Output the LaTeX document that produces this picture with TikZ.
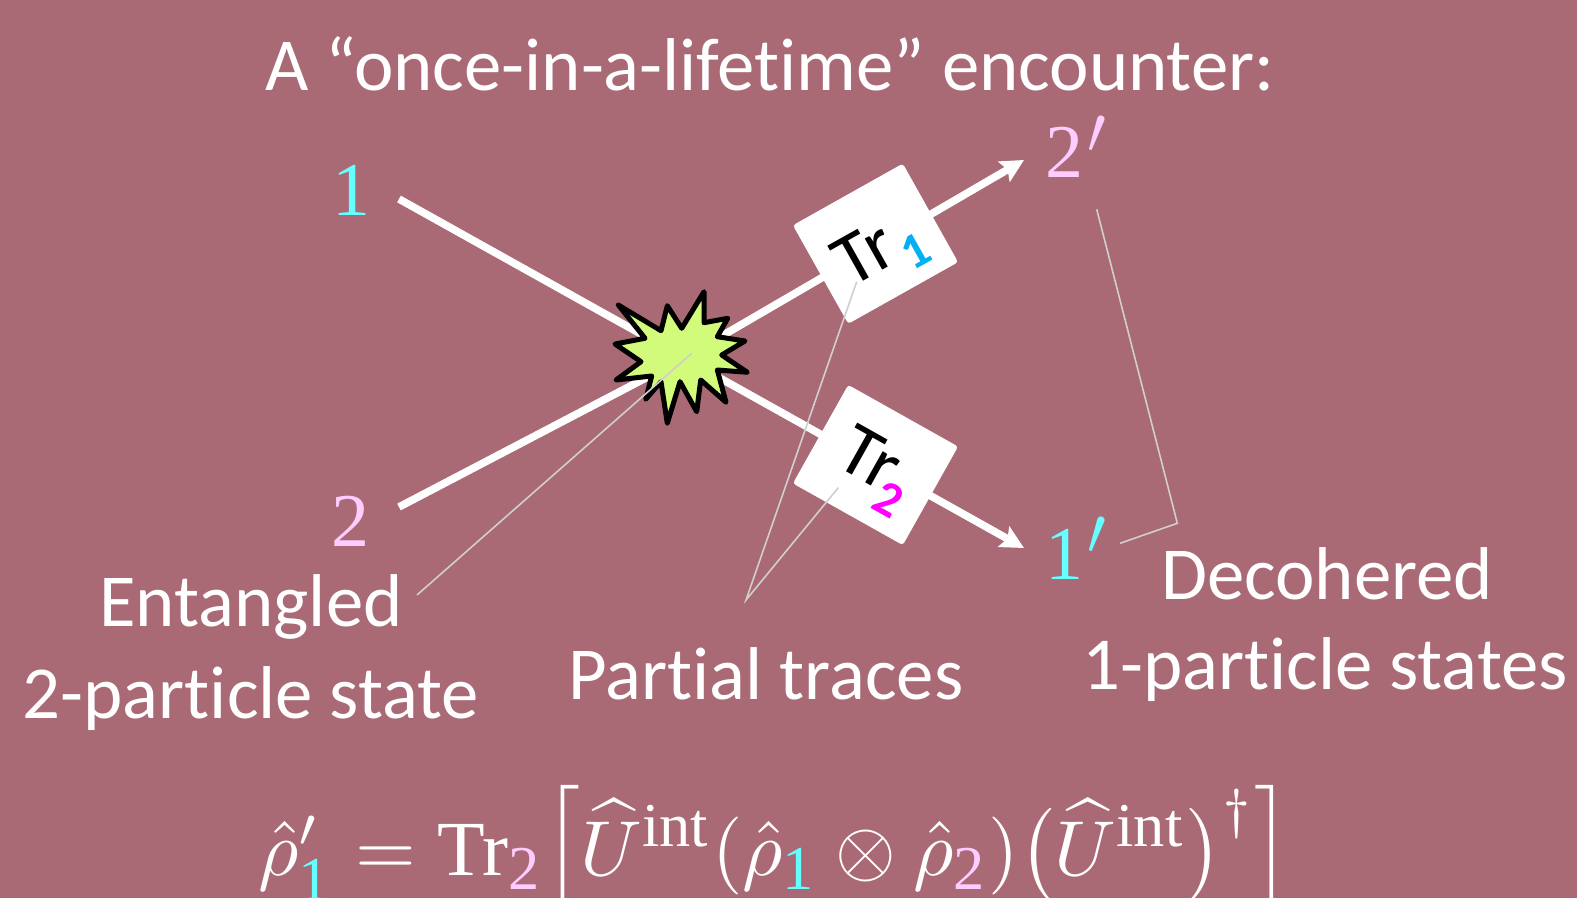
\documentclass[tikz,border=0pt]{standalone}
\usepackage[no-math]{fontspec}
\usepackage{graphicx}
\setmainfont[Ligatures=NoCommon]{Carlito}
\newfontfamily\numfont{Liberation Serif}
\usetikzlibrary{arrows.meta,positioning,calc}
\definecolor{slidebg}{HTML}{A96A76}
\definecolor{cyanone}{HTML}{66FFFF}
\definecolor{pinktwo}{HTML}{FFCCFF}
\definecolor{pointer}{HTML}{D0CECE}
\definecolor{burstfill}{HTML}{D2FB7C}
\definecolor{subone}{HTML}{00B0F0}
\definecolor{subtwo}{HTML}{FF00FF}
\newcommand{\BigText}{\fontsize{37.4}{45}\selectfont}
\newcommand{\NumText}{\fontsize{38}{45}\numfont}
\newcommand{\SubFont}{\fontsize{25}{25}\selectfont\bfseries}
\newcommand{\SubOne}{\mbox{\fontsize{8}{8}\numfont\textcolor{cyanone}{1}}}
\newcommand{\SubTwo}{\mbox{\fontsize{8}{8}\numfont\textcolor{pinktwo}{2}}}
\newcommand{\Interact}{\mbox{\fontsize{8}{8}\numfont int}}
\newcommand{\BigPrime}{\kern2pt\scalebox{1.35}{$'$}}

\begin{document}
\begin{tikzpicture}[
  x=0.5pt, y=-0.5pt,
  label/.style={font=\BigText, text=white, align=center, inner sep=0pt},
  num/.style={font=\NumText, anchor=base, inner sep=0pt},
  tracebox/.style={fill=white, rounded corners=1.5pt, minimum width=63pt, minimum height=56.5pt,
    inner sep=0pt, font=\BigText, text=black},
  beam/.style={white, line width=3.8pt},
  beamtip/.style={beam, -{Stealth[length=11.5pt, width=11.5pt, inset=2pt]}},
  pointline/.style={draw=pointer, line width=0.8pt}
]
\useasboundingbox (0,0) rectangle (1577,898);
\fill[slidebg] (0,0) rectangle (1577,898);

\node[label, anchor=base] (title) at (770,91) {A “once-in-a-lifetime” encounter:};

\coordinate (in1) at (399,199);
\coordinate (in2) at (399,507);
\coordinate (tip1) at (1024,548);
\coordinate (tip2) at (1024,160);
\draw[beam] (in1) -- (684,358);
\draw[beam] (in2) -- (684,358);
\draw[beamtip] (684,358) -- (tip1);
\draw[beamtip] (684,358) -- (tip2);

% collision
\draw[fill=burstfill, draw=black, line width=2.5pt, line join=round]
  (704,291.7) -- (704,322.7) -- (727.7,318.3) -- (717.3,336.7) -- (745,341) -- (721.7,355)
  -- (747.3,372.3) -- (717.3,370) -- (726,402.3) -- (700.7,380) -- (696.7,411.7) -- (680,381.7)
  -- (667.3,423.3) -- (661,381.7) -- (645.7,399.3) -- (651.7,376) -- (616,380) -- (641,361.7)
  -- (615,344) -- (645,338.3) -- (618.3,305) -- (661,330.7) -- (667.3,305.7) -- (681.7,328.3)
  -- cycle;

\node[tracebox, rotate=29.3] (trace1) at (875.5,243.7)
  {\smash{\raisebox{-13.4pt}{Tr}}\kern2pt\smash{\raisebox{-21pt}{\SubFont\textcolor{subone}{1}}}};
\node[tracebox, rotate=-29.3] (trace2) at (875.5,465)
  {\kern2pt\smash{\raisebox{-10pt}{Tr}}\kern-3pt\smash{\raisebox{-19.8pt}{\SubFont\textcolor{subtwo}{2}}}};

\node[num, text=cyanone] (one) at (351,216) {1};
\node[num, text=pinktwo] (two) at (350,546) {2};
\node[num, text=pinktwo, anchor=base west] (twop) at (1045,178) {2\BigPrime};
\node[num, text=cyanone, anchor=base west] (onep) at (1045,579) {1\BigPrime};

\node[label, anchor=base] (entangled) at (251,626) {Entangled};
\node[label, anchor=base] (twostate) at (251,718) {2-particle state};
\node[label, anchor=base] (partial) at (766,699) {Partial traces};
\node[label, anchor=base] (decohered) at (1327,599) {Decohered};
\node[label, anchor=base] (onestate) at (1325,689) {1-particle states};

\coordinate (entfoot) at (417,595);
\coordinate (entend) at (691.7,353.3);
\coordinate (partfoot) at (746,600);
\coordinate (partend1) at (856.7,281.7);
\coordinate (partend2) at (838.3,487.7);
\coordinate (decend2) at (1096.7,209.3);
\coordinate (deccorner) at (1177.3,523.3);
\coordinate (decend1) at (1120,543.3);
\draw[pointline] (entfoot) -- (entend);
\draw[pointline] (partend1) -- (partfoot) -- (partend2);
\draw[pointline] (decend2) -- (deccorner) -- (decend1);

\node[text=white, anchor=base west, inner sep=0pt] (formula) at (258,875)
  {\scalebox{3.9}{$\hat\rho_{\SubOne}'=\mbox{\numfont Tr}_{\SubTwo}\Bigl[\widehat U^{\Interact}(\hat\rho_{\SubOne}\otimes\hat\rho_{\SubTwo})\bigl(\widehat U^{\Interact}\bigr)^{\dagger}\Bigr]$}};
\end{tikzpicture}
\end{document}
